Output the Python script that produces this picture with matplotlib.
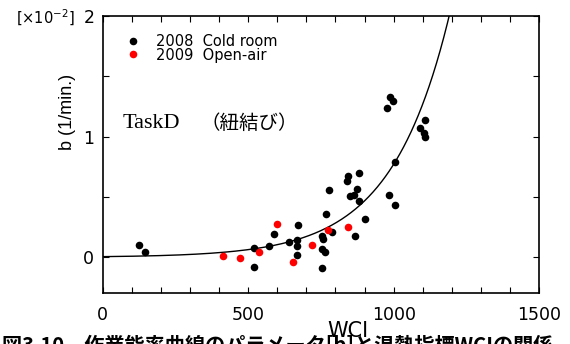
import numpy as np
import matplotlib.pyplot as plt
from matplotlib.ticker import MultipleLocator

# 2008 cold room (WCI, b x1e-2)
wci_2008 = [126, 146, 519, 520, 573, 589, 641, 667, 669, 669, 672, 753, 756, 753,
            765, 753, 768, 779, 787, 841, 844, 850, 864, 867, 873, 881, 882, 902,
            978, 986, 997, 985, 1005, 1005, 1091, 1104, 1106, 1108]
b_2008 = [0.10, 0.04, 0.08, -0.08, 0.09, 0.19, 0.13, 0.14, 0.09, 0.02, 0.27, 0.18,
          0.15, 0.07, 0.04, -0.09, 0.36, 0.56, 0.21, 0.63, 0.67, 0.51, 0.52, 0.18,
          0.57, 0.70, 0.47, 0.32, 1.24, 1.33, 1.30, 0.52, 0.43, 0.79, 1.07, 1.03,
          1.00, 1.14]

# 2009 open-air
wci_2009 = [412, 472, 536, 600, 655, 718, 776, 844]
b_2009 = [0.01, -0.01, 0.04, 0.28, -0.04, 0.10, 0.23, 0.25]

# fitted curve b = a*exp(k*WCI)
fit_a = 0.0052
fit_k = 0.005

fig = plt.figure(figsize=(5.7, 3.44), dpi=100)
ax = fig.add_axes([0.180, 0.147, 0.766, 0.806])

x = np.linspace(0, 1500, 600)
ax.plot(x, fit_a * np.exp(fit_k * x), color='black', lw=1.0)
ax.scatter(wci_2008, b_2008, s=30, color='black', zorder=3, linewidths=0)
ax.scatter(wci_2009, b_2009, s=30, color='red', zorder=3, linewidths=0)

ax.set_xlim(0, 1500)
ax.set_ylim(-0.3, 2)
ax.xaxis.set_major_locator(MultipleLocator(500))
ax.xaxis.set_minor_locator(MultipleLocator(100))
ax.yaxis.set_major_locator(MultipleLocator(1))
ax.yaxis.set_minor_locator(MultipleLocator(0.5))
ax.tick_params(which='both', direction='in', top=True, right=True, length=4,
               width=0.8, labelsize=12.5)
ax.tick_params(axis='x', pad=9)
ax.tick_params(axis='y', pad=6)
for sp in ax.spines.values():
    sp.set_linewidth(1.2)

# legend
ax.scatter([105], [1.795], s=30, color='black', clip_on=False, linewidths=0)
ax.scatter([105], [1.687], s=30, color='red', clip_on=False, linewidths=0)
fig.text(156 / 570, 1 - 41.5 / 344, '2008  Cold room', fontsize=10.5, va='center')
fig.text(156 / 570, 1 - 55.5 / 344, '2009  Open-air', fontsize=10.5, va='center')

fig.text(123 / 570, 1 - 123 / 344, 'TaskD', fontsize=16, family='Liberation Serif', va='center')
fig.text(201 / 570, 1 - 123 / 344, '（紐結び）', fontsize=14, family='Noto Sans CJK JP', va='center')

fig.text(16 / 570, 1 - 18 / 344, r'[$\times$10$^{-2}$]', fontsize=10.5,
         ha='left', va='center')
fig.text(68 / 570, 1 - 112 / 344, 'b (1/min.)', fontsize=13, family='Liberation Sans',
         rotation=90, ha='center', va='center')
fig.text(348 / 570, 1 - 331 / 344, 'WCI', fontsize=15, ha='center', va='center')
fig.text(2 / 570, 1 - 335 / 344, '図3.10　作業能率曲線のパラメータ[b]と温熱指標WCIの関係', fontsize=14.5,
         family=['Noto Sans CJK JP', 'DejaVu Sans'], weight='bold', va='top')

fig.savefig('out.png', dpi=100)
